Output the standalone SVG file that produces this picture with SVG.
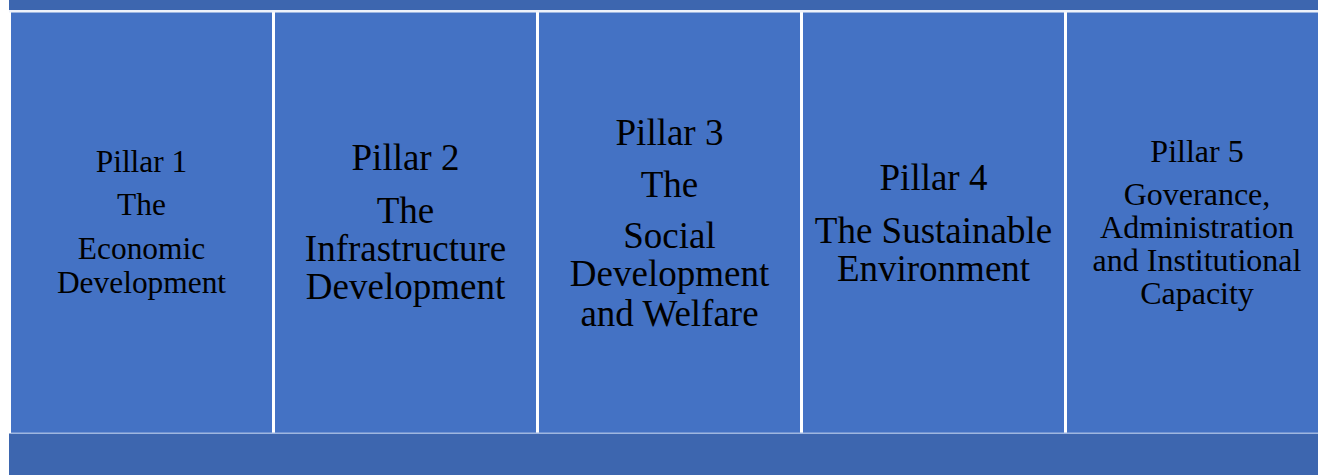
<svg xmlns="http://www.w3.org/2000/svg" width="1318" height="475" viewBox="0 0 1318 475">
<style>
.band{fill:#3D66AF}
.pillar{fill:#4472C4}
.t{font-family:"Liberation Serif","Times New Roman",serif;fill:#000;text-anchor:middle}
.s31{font-size:31.4px}
.s32{font-size:32px}
.s37{font-size:37px}
</style>
<rect x="0" y="0" width="1318" height="475" fill="#FFFFFF"/>
<rect class="band" x="9" y="0" width="1309" height="10"/>
<rect x="9" y="10" width="1309" height="2.5" fill="#EEF2FA"/>
<rect class="band" x="9" y="433.5" width="1309" height="41.5"/>
<g id="pillar1">
<rect class="pillar" x="11" y="12.5" width="261" height="420.5"/>
<text class="t s31" x="141.5" y="172">Pillar 1</text>
<text class="t s31" x="141.5" y="215">The</text>
<text class="t s31" x="141.5" y="259">Economic</text>
<text class="t s31" x="141.5" y="293">Development</text>
</g>
<g id="pillar2">
<rect class="pillar" x="275" y="12.5" width="261" height="420.5"/>
<text class="t s37" x="405.5" y="170">Pillar 2</text>
<text class="t s37" x="405.5" y="223">The</text>
<text class="t s37" x="405.5" y="261">Infrastructure</text>
<text class="t s37" x="405.5" y="299">Development</text>
</g>
<g id="pillar3">
<rect class="pillar" x="539" y="12.5" width="261" height="420.5"/>
<text class="t s37" x="669.5" y="145">Pillar 3</text>
<text class="t s37" x="669.5" y="197">The</text>
<text class="t s37" x="669.5" y="248">Social</text>
<text class="t s37" x="669.5" y="286">Development</text>
<text class="t s37" x="669.5" y="326">and Welfare</text>
</g>
<g id="pillar4">
<rect class="pillar" x="803" y="12.5" width="261" height="420.5"/>
<text class="t s37" x="933.5" y="190">Pillar 4</text>
<text class="t s37" x="933.5" y="243">The Sustainable</text>
<text class="t s37" x="933.5" y="281">Environment</text>
</g>
<g id="pillar5">
<rect class="pillar" x="1067" y="12.5" width="251" height="420.5"/>
<text class="t s32" x="1197" y="162">Pillar 5</text>
<text class="t s32" x="1197" y="205">Goverance,</text>
<text class="t s32" x="1197" y="238">Administration</text>
<text class="t s32" x="1197" y="271">and Institutional</text>
<text class="t s32" x="1197" y="304">Capacity</text>
</g>
<g id="connectors"></g>
<rect x="11" y="432.5" width="1307" height="1.2" fill="#9FB8E3"/>
</svg>
